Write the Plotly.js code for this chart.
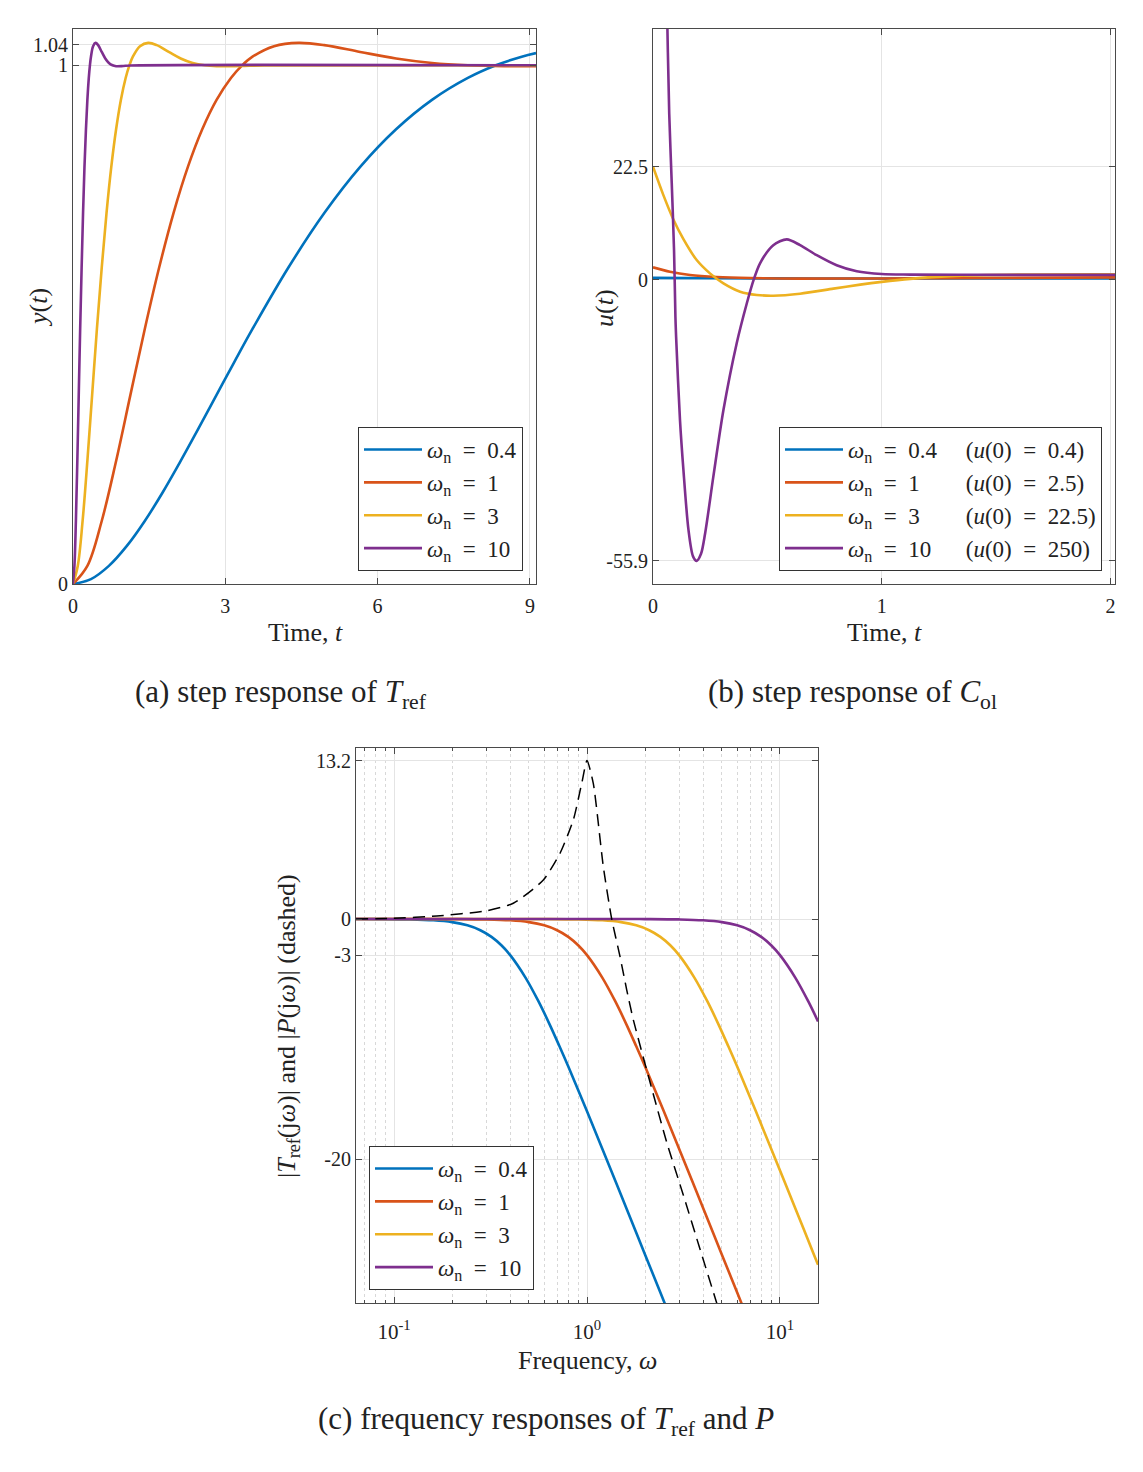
<!DOCTYPE html>
<html>
<head>
<meta charset="utf-8">
<script src="https://cdn.plot.ly/plotly-3.0.1.min.js"></script>
<style>html,body{margin:0;padding:0;background:#fff;}#chart{width:1143px;height:1472px;}</style>
</head>
<body>
<div id="chart"></div>
<script>
// ---------- (a) step response of T_ref ----------
const tA04 = [0, 0.354, 0.707, 1.061, 1.414, 1.768, 2.121, 2.475, 2.828, 3.182, 3.536, 4.243, 4.950, 5.657, 6.364, 7.071, 7.778, 8.330, 8.839, 9.12];
const yA04 = [0, 0.0094, 0.0349, 0.0734, 0.1215, 0.1769, 0.2372, 0.3003, 0.3646, 0.4288, 0.4917, 0.6101, 0.7151, 0.8041, 0.8766, 0.9333, 0.9756, 1.0, 1.0166, 1.0235];
const tA1 = [0, 0.283, 0.566, 0.849, 1.131, 1.414, 1.697, 1.980, 2.263, 2.546, 2.828, 3.111, 3.332, 3.536, 3.960, 4.443, 4.950, 5.657, 6.364, 7.071, 7.778, 8.485, 9.12];
const yA1 = [0, 0.0349, 0.1215, 0.2372, 0.3646, 0.4917, 0.6101, 0.7151, 0.8041, 0.8766, 0.9333, 0.9756, 1.0, 1.0166, 1.0369, 1.0432, 1.0389, 1.0258, 1.0132, 1.0045, 1.0, 0.9983, 0.9982];
const tA3 = [0, 0.094, 0.189, 0.283, 0.377, 0.471, 0.566, 0.660, 0.754, 0.849, 0.943, 1.037, 1.111, 1.179, 1.320, 1.481, 1.650, 1.886, 2.121, 2.357, 2.593, 2.828, 3.300, 3.771, 9.12];
const yA3 = [0, 0.0349, 0.1215, 0.2372, 0.3646, 0.4917, 0.6101, 0.7151, 0.8041, 0.8766, 0.9333, 0.9756, 1.0, 1.0166, 1.0369, 1.0432, 1.0389, 1.0258, 1.0132, 1.0045, 1.0, 0.9983, 0.9987, 0.9997, 1.0];
const tA10 = [0, 0.028, 0.057, 0.085, 0.113, 0.141, 0.170, 0.198, 0.226, 0.255, 0.283, 0.311, 0.333, 0.354, 0.396, 0.444, 0.495, 0.566, 0.636, 0.707, 0.778, 0.849, 0.990, 1.131, 9.12];
const yA10 = [0, 0.0349, 0.1215, 0.2372, 0.3646, 0.4917, 0.6101, 0.7151, 0.8041, 0.8766, 0.9333, 0.9756, 1.0, 1.0166, 1.0369, 1.0432, 1.0389, 1.0258, 1.0132, 1.0045, 1.0, 0.9983, 0.9987, 0.9997, 1.0];

// ---------- (b) step response of C_ol ----------
const tB04 = [0, 0.3, 0.7, 1.2, 1.6, 2.02];
const uB04 = [0.4, 0.33, 0.28, 0.27, 0.28, 0.3];
const tB1 = [0, 0.074, 0.162, 0.279, 0.425, 0.643, 1.0, 1.5, 2.02];
const uB1 = [2.5, 1.6, 0.95, 0.56, 0.36, 0.25, 0.28, 0.38, 0.5];
const tB3 = [0, 0.045, 0.089, 0.133, 0.191, 0.249, 0.308, 0.381, 0.454, 0.526, 0.643, 0.789, 0.906, 1.0, 1.125, 1.3, 1.6, 2.02];
const uB3 = [22.5, 16.9, 12.0, 8.1, 3.94, 1.29, -0.7, -2.35, -3.0, -3.15, -2.75, -1.75, -0.95, -0.4, 0.2, 0.75, 1.05, 1.1];
const tB10 = [0, 0.02, 0.04, 0.063, 0.071, 0.082, 0.092, 0.098, 0.101, 0.118, 0.133, 0.155, 0.175, 0.191, 0.21, 0.228, 0.264, 0.308, 0.366, 0.41, 0.44, 0.468, 0.526, 0.585, 0.643, 0.716, 0.803, 0.891, 1.0, 1.125, 1.5, 2.02];
const uB10 = [250, 175, 110, 50, 33, 19.2, 5.9, -7.3, -11.3, -27.9, -37.8, -49.7, -55.0, -55.9, -54.5, -50.4, -39.1, -25.9, -12.6, -4.7, 0, 3.3, 6.9, 8.05, 6.9, 4.9, 2.9, 1.7, 1.15, 1.05, 1.0, 1.0];

// ---------- (c) frequency responses (dB) ----------
const wC04 = [0.0635, 0.08, 0.12, 0.16, 0.2, 0.24, 0.28, 0.32, 0.36, 0.4, 0.48, 0.56, 0.64, 0.72, 0.8, 1.0, 1.2, 1.4, 1.6, 2.0, 2.4, 2.8, 3.2];
const mC04 = [0, -0.007, -0.035, -0.11, -0.263, -0.53, -0.934, -1.49, -2.19, -3.01, -4.88, -6.85, -8.78, -10.61, -12.3, -16.03, -19.14, -21.79, -24.1, -27.97, -31.13, -33.8, -36.1];
const wC1 = [0.0635, 0.1, 0.2, 0.3, 0.4, 0.5, 0.6, 0.7, 0.8, 0.9, 1.0, 1.2, 1.4, 1.6, 1.8, 2.0, 2.5, 3.0, 3.5, 4.0, 5.0, 6.0, 7.0];
const mC1 = [0, 0, -0.007, -0.035, -0.11, -0.263, -0.53, -0.934, -1.49, -2.19, -3.01, -4.88, -6.85, -8.78, -10.61, -12.3, -16.03, -19.14, -21.79, -24.1, -27.97, -31.13, -33.8];
const wC3 = [0.0635, 0.3, 0.6, 0.9, 1.2, 1.5, 1.8, 2.1, 2.4, 2.7, 3.0, 3.6, 4.2, 4.8, 5.4, 6.0, 7.5, 9.0, 10.5, 12.0, 15.0, 15.75];
const mC3 = [0, 0, -0.007, -0.035, -0.11, -0.263, -0.53, -0.934, -1.49, -2.19, -3.01, -4.88, -6.85, -8.78, -10.61, -12.3, -16.03, -19.14, -21.79, -24.1, -27.97, -28.81];
const wC10 = [0.0635, 1, 2, 3, 4, 5, 6, 7, 8, 9, 10, 12, 14, 15.75];
const mC10 = [0, 0, -0.007, -0.035, -0.11, -0.263, -0.53, -0.934, -1.49, -2.19, -3.01, -4.88, -6.85, -8.54];
const wP = [0.0635, 0.0989, 0.1665, 0.302, 0.415, 0.594, 0.725, 0.849, 0.939, 1.0, 1.078, 1.215, 1.343, 1.483, 1.606, 1.738, 2.206, 2.588, 3.155, 3.85, 4.70, 5.2];
const mP = [0, 0.06, 0.25, 0.69, 1.31, 3.25, 5.48, 8.25, 11.3, 13.2, 11.3, 4.36, 0, -3.14, -5.9, -8.4, -14.6, -18.6, -23.0, -27.5, -32.0, -34.3];

// ---------- labels ----------
const colors = ['#0072BD', '#D95319', '#EDB120', '#7E2F8E'];
const wnLabels = ['<i>ω</i><sub>n</sub>\u2002=\u20020.4', '<i>ω</i><sub>n</sub>\u2002=\u20021', '<i>ω</i><sub>n</sub>\u2002=\u20023', '<i>ω</i><sub>n</sub>\u2002=\u200210'];
const u0Labels = ['(<i>u</i>(0)\u2002=\u20020.4)', '(<i>u</i>(0)\u2002=\u20022.5)', '(<i>u</i>(0)\u2002=\u200222.5)', '(<i>u</i>(0)\u2002=\u2002250)'];
const u0Pad = [5, 8, 8, 6];
const ticksAx = [0, 3, 6, 9];
const ticksAy = [0, 1, 1.04];
const ticksBx = [0, 1, 2];
const ticksBy = [-55.9, 0, 22.5];
const ticksCx = [0.1, 1, 10];
const ticksCxText = ['10<sup>-1</sup>', '10<sup>0</sup>', '10<sup>1</sup>'];
const ticksCy = [-20, -3, 0, 13.2];
const captions = ['(a) step response of <i>T</i><sub>ref</sub>', '(b) step response of <i>C</i><sub>ol</sub>', '(c) frequency responses of <i>T</i><sub>ref</sub> and <i>P</i>'];

const W = 1143, H = 1472;
const px = v => v / W, py = v => 1 - v / H;
const FONT = 'Liberation Serif, Times New Roman, serif';
const TXT = '#222';

const A = [[tA04, yA04], [tA1, yA1], [tA3, yA3], [tA10, yA10]];
const B = [[tB04, uB04], [tB1, uB1], [tB3, uB3], [tB10, uB10]];
const C = [[wC04, mC04], [wC1, mC1], [wC3, mC3], [wC10, mC10]];

const traces = [];
A.forEach((d, i) => traces.push({x: d[0], y: d[1], xaxis: 'x', yaxis: 'y', mode: 'lines', name: wnLabels[i],
  line: {color: colors[i], width: 2.6, shape: 'spline', smoothing: 1}, legend: 'legend'}));
B.forEach((d, i) => traces.push({x: d[0], y: d[1], xaxis: 'x2', yaxis: 'y2', mode: 'lines',
  name: wnLabels[i] + '\u00a0'.repeat(u0Pad[i]) + u0Labels[i],
  line: {color: colors[i], width: 2.6, shape: 'spline', smoothing: 0.8}, legend: 'legend2'}));
C.forEach((d, i) => traces.push({x: d[0], y: d[1], xaxis: 'x3', yaxis: 'y3', mode: 'lines', name: wnLabels[i],
  line: {color: colors[i], width: 2.6, shape: 'spline', smoothing: 1}, legend: 'legend3'}));
traces.push({x: wP, y: mP, xaxis: 'x3', yaxis: 'y3', mode: 'lines', showlegend: false,
  line: {color: '#000', width: 1.5, dash: '12px,7px', shape: 'spline', smoothing: 0.6}});

const axBase = {
  showline: true, mirror: 'ticks', linecolor: '#4a4a4a', linewidth: 1,
  ticks: 'inside', ticklen: 6, tickcolor: '#4a4a4a', tickwidth: 1,
  showgrid: true, gridcolor: '#e4e4e4', gridwidth: 1, zeroline: false,
  tickfont: {family: FONT, size: 20, color: TXT}, tickmode: 'array', fixedrange: true
};
const legBase = {
  bgcolor: '#fff', bordercolor: '#333', borderwidth: 1,
  font: {family: FONT, size: 23, color: TXT}, itemwidth: 58, tracegroupgap: 0, traceorder: 'normal'
};
const minorVals = [0.07, 0.08, 0.09, 0.2, 0.3, 0.4, 0.5, 0.6, 0.7, 0.8, 0.9, 2, 3, 4, 5, 6, 7, 8, 9];

function ann(text, x, y, size, angle) {
  return {text: text, x: px(x), y: py(y), xref: 'paper', yref: 'paper', xanchor: 'center', yanchor: 'middle',
    showarrow: false, textangle: angle || 0, font: {family: FONT, size: size, color: TXT}};
}

const layout = {
  width: W, height: H, margin: {l: 0, r: 0, t: 0, b: 0},
  paper_bgcolor: '#fff', plot_bgcolor: '#fff', showlegend: true,
  xaxis: Object.assign({}, axBase, {domain: [px(73), px(536)], anchor: 'y', range: [0, 9.12], tickvals: ticksAx, ticklabelstandoff: 4}),
  yaxis: Object.assign({}, axBase, {domain: [py(584), py(29)], anchor: 'x', range: [0, 1.07], tickvals: ticksAy, ticktext: ['0', '1', '1.04']}),
  xaxis2: Object.assign({}, axBase, {domain: [px(653), px(1115)], anchor: 'y2', range: [0, 2.02], tickvals: ticksBx, ticklabelstandoff: 4}),
  yaxis2: Object.assign({}, axBase, {domain: [py(584), py(29)], anchor: 'x2', range: [-60.5, 49.9], tickvals: ticksBy, ticktext: ['-55.9', '0', '22.5']}),
  xaxis3: Object.assign({}, axBase, {domain: [px(356), px(818)], anchor: 'y3', type: 'log', range: [-1.197, 1.197],
    tickvals: ticksCx, ticktext: ticksCxText, ticklabelstandoff: 10, tickfont: {family: FONT, size: 21, color: TXT},
    minor: {tickmode: 'array', tickvals: minorVals, ticks: 'inside', ticklen: 3, tickcolor: '#4a4a4a', showgrid: true, gridcolor: '#d8d8d8', griddash: 'dot', gridwidth: 1}}),
  yaxis3: Object.assign({}, axBase, {domain: [py(1303), py(748)], anchor: 'x3', range: [-32, 14.25], tickvals: ticksCy, ticktext: ['-20', '-3', '0', '13.2']}),
  legend: Object.assign({}, legBase, {x: px(523), xanchor: 'right', y: py(571), yanchor: 'bottom'}),
  legend2: Object.assign({}, legBase, {x: px(1102), xanchor: 'right', y: py(571), yanchor: 'bottom'}),
  legend3: Object.assign({}, legBase, {x: px(369), xanchor: 'left', y: py(1290), yanchor: 'bottom'}),
  annotations: [
    ann('Time, <i>t</i>', 305, 632, 26),
    ann('Time, <i>t</i>', 884, 632, 26),
    ann('Frequency, <i>ω</i>', 587, 1360, 26),
    ann('<i>y</i>(<i>t</i>)', 38, 308, 26, -90),
    ann('<i>u</i>(<i>t</i>)', 604, 308, 26, -90),
    ann('|<i>T</i><sub>ref</sub>(j<i>ω</i>)| and |<i>P</i>(j<i>ω</i>)| (dashed)', 288, 1026, 26, -90),
    ann(captions[0], 281, 694, 31),
    ann(captions[1], 852, 694, 31),
    ann(captions[2], 546, 1421, 31)
  ]
};

Plotly.newPlot('chart', traces, layout, {staticPlot: true, displayModeBar: false});
</script>
</body>
</html>
